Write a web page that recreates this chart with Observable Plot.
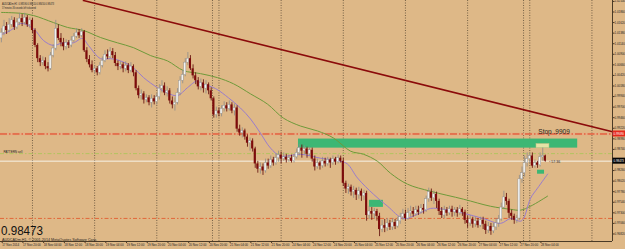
<!DOCTYPE html>
<html><head><meta charset="utf-8">
<script src="https://cdn.jsdelivr.net/npm/d3@7"></script>
<script src="https://cdn.jsdelivr.net/npm/@observablehq/plot@0.6"></script>
<style>html,body{margin:0;padding:0;background:#DEB887;overflow:hidden}</style>
</head><body><div id="chart"></div>
<script>
// ---- Candle data (H1 bars, index 0 = 17 Nov 12:00) ----
const open = [
1.0126,1.0139,1.0153,1.0144,1.0157,1.0167,1.0151,1.0162,1.0171,1.0162,
1.0173,1.0157,1.0167,1.0144,1.0110,1.0080,1.0071,1.0075,1.0062,1.0057,
1.0087,1.0103,1.0148,1.0126,1.0116,1.0107,1.0116,1.0110,1.0121,1.0130,
1.0139,1.0132,1.0141,1.0098,1.0078,1.0066,1.0053,1.0057,1.0048,1.0064,
1.0075,1.0089,1.0084,1.0096,1.0087,1.0069,1.0062,1.0066,1.0057,1.0064,
1.0053,1.0062,1.0048,1.0012,0.9996,1.0000,0.9986,0.9991,0.9980,0.9989,
0.9982,0.9993,1.0012,1.0018,1.0002,1.0007,0.9984,0.9975,0.9980,1.0002,
1.0030,1.0043,1.0071,1.0080,1.0057,1.0041,1.0030,1.0016,1.0025,1.0012,
1.0021,1.0007,0.9989,0.9952,0.9961,0.9955,0.9966,0.9973,0.9966,0.9975,
0.9961,0.9968,0.9920,0.9911,0.9916,0.9902,0.9888,0.9893,0.9875,0.9841,
0.9829,0.9834,0.9825,0.9843,0.9836,0.9850,0.9843,0.9854,0.9861,0.9852,
0.9856,0.9850,0.9854,0.9847,0.9856,0.9866,0.9877,0.9870,0.9875,0.9863,
0.9872,0.9852,0.9834,0.9843,0.9836,0.9847,0.9841,0.9850,0.9843,0.9852,
0.9845,0.9854,0.9847,0.9797,0.9784,0.9788,0.9777,0.9781,0.9770,0.9779,
0.9768,0.9774,0.9724,0.9733,0.9727,0.9733,0.9722,0.9692,0.9701,0.9695,
0.9706,0.9697,0.9708,0.9699,0.9711,0.9720,0.9727,0.9717,0.9729,0.9733,
0.9727,0.9736,0.9731,0.9740,0.9736,0.9761,0.9777,0.9763,0.9772,0.9756,
0.9733,0.9724,0.9736,0.9729,0.9738,0.9731,0.9736,0.9729,0.9738,0.9731,
0.9713,0.9706,0.9715,0.9704,0.9711,0.9701,0.9713,0.9704,0.9690,0.9699,
0.9688,0.9697,0.9706,0.9715,0.9742,0.9765,0.9756,0.9729,0.9722,0.9713,
0.9717,0.9806,0.9820,0.9843,0.9852,0.9859,0.9836,0.9843,0.9838,0.9856,0.9859];
const high = [
1.0148,1.0167,1.0162,1.0171,1.0176,1.0173,1.0171,1.0183,1.0180,1.0183,
1.0178,1.0173,1.0171,1.0148,1.0114,1.0087,1.0084,1.0082,1.0071,1.0094,
1.0112,1.0167,1.0157,1.0137,1.0126,1.0123,1.0121,1.0130,1.0137,1.0148,
1.0146,1.0148,1.0144,1.0105,1.0087,1.0075,1.0064,1.0062,1.0071,1.0084,
1.0098,1.0100,1.0105,1.0103,1.0094,1.0075,1.0073,1.0071,1.0073,1.0069,
1.0071,1.0066,1.0053,1.0018,1.0009,1.0005,0.9998,0.9996,0.9998,0.9996,
1.0000,1.0021,1.0030,1.0025,1.0016,1.0012,0.9993,0.9991,1.0012,1.0039,
1.0053,1.0080,1.0094,1.0087,1.0066,1.0048,1.0037,1.0034,1.0032,1.0030,
1.0025,1.0014,0.9993,0.9970,0.9968,0.9973,0.9982,0.9980,0.9984,0.9980,
0.9977,0.9973,0.9929,0.9923,0.9920,0.9907,0.9900,0.9898,0.9879,0.9847,
0.9843,0.9841,0.9852,0.9852,0.9859,0.9856,0.9863,0.9870,0.9868,0.9866,
0.9863,0.9861,0.9861,0.9863,0.9875,0.9886,0.9884,0.9882,0.9879,0.9879,
0.9877,0.9859,0.9852,0.9847,0.9856,0.9854,0.9856,0.9854,0.9859,0.9856,
0.9861,0.9859,0.9854,0.9802,0.9795,0.9793,0.9790,0.9786,0.9788,0.9784,
0.9781,0.9779,0.9745,0.9742,0.9740,0.9738,0.9729,0.9713,0.9715,0.9717,
0.9713,0.9717,0.9715,0.9720,0.9729,0.9738,0.9736,0.9740,0.9745,0.9742,
0.9745,0.9745,0.9749,0.9749,0.9768,0.9786,0.9784,0.9779,0.9777,0.9761,
0.9742,0.9745,0.9742,0.9745,0.9745,0.9742,0.9742,0.9747,0.9742,0.9736,
0.9722,0.9724,0.9720,0.9720,0.9717,0.9720,0.9720,0.9711,0.9708,0.9706,
0.9706,0.9717,0.9724,0.9752,0.9779,0.9774,0.9761,0.9736,0.9727,0.9724,
0.9815,0.9834,0.9859,0.9866,0.9866,0.9866,0.9850,0.9847,0.9866,0.9877,0.9861];
const low = [
1.0116,1.0132,1.0135,1.0139,1.0151,1.0144,1.0146,1.0155,1.0153,1.0157,
1.0151,1.0148,1.0137,1.0105,1.0071,1.0062,1.0064,1.0055,1.0050,1.0053,
1.0082,1.0098,1.0121,1.0107,1.0098,1.0100,1.0103,1.0105,1.0116,1.0126,
1.0126,1.0128,1.0094,1.0071,1.0059,1.0048,1.0046,1.0041,1.0043,1.0059,
1.0071,1.0078,1.0080,1.0080,1.0062,1.0053,1.0055,1.0048,1.0050,1.0046,
1.0048,1.0039,1.0007,0.9989,0.9986,0.9977,0.9980,0.9973,0.9968,0.9975,
0.9975,0.9986,1.0002,0.9996,0.9993,0.9977,0.9966,0.9961,0.9975,0.9996,
1.0023,1.0039,1.0064,1.0053,1.0034,1.0021,1.0009,1.0007,1.0002,1.0000,
0.9998,0.9984,0.9945,0.9945,0.9948,0.9948,0.9959,0.9959,0.9961,0.9955,
0.9950,0.9913,0.9904,0.9900,0.9895,0.9879,0.9870,0.9868,0.9831,0.9820,
0.9818,0.9815,0.9820,0.9829,0.9831,0.9836,0.9838,0.9845,0.9841,0.9847,
0.9843,0.9845,0.9843,0.9843,0.9852,0.9859,0.9854,0.9863,0.9854,0.9859,
0.9845,0.9825,0.9829,0.9827,0.9831,0.9834,0.9836,0.9831,0.9838,0.9838,
0.9841,0.9843,0.9790,0.9774,0.9772,0.9768,0.9763,0.9758,0.9761,0.9756,
0.9758,0.9711,0.9715,0.9713,0.9715,0.9711,0.9676,0.9685,0.9685,0.9688,
0.9690,0.9690,0.9692,0.9695,0.9704,0.9713,0.9711,0.9713,0.9720,0.9720,
0.9722,0.9724,0.9727,0.9727,0.9731,0.9754,0.9756,0.9749,0.9740,0.9724,
0.9717,0.9717,0.9722,0.9724,0.9720,0.9722,0.9720,0.9724,0.9722,0.9704,
0.9695,0.9699,0.9695,0.9697,0.9695,0.9697,0.9692,0.9681,0.9683,0.9679,
0.9683,0.9690,0.9697,0.9711,0.9738,0.9747,0.9717,0.9713,0.9704,0.9706,
0.9713,0.9797,0.9811,0.9834,0.9841,0.9831,0.9831,0.9831,0.9834,0.9847,0.9845];
const close = [
1.0139,1.0153,1.0144,1.0157,1.0167,1.0151,1.0162,1.0171,1.0162,1.0173,
1.0157,1.0167,1.0144,1.0110,1.0080,1.0071,1.0075,1.0062,1.0057,1.0087,
1.0103,1.0148,1.0126,1.0116,1.0107,1.0116,1.0110,1.0121,1.0130,1.0139,
1.0132,1.0141,1.0098,1.0078,1.0066,1.0053,1.0057,1.0048,1.0064,1.0075,
1.0089,1.0084,1.0096,1.0087,1.0069,1.0062,1.0066,1.0057,1.0064,1.0053,
1.0062,1.0048,1.0012,0.9996,1.0000,0.9986,0.9991,0.9980,0.9989,0.9982,
0.9993,1.0012,1.0018,1.0002,1.0007,0.9984,0.9975,0.9980,1.0002,1.0030,
1.0043,1.0071,1.0080,1.0057,1.0041,1.0030,1.0016,1.0025,1.0012,1.0021,
1.0007,0.9989,0.9952,0.9961,0.9955,0.9966,0.9973,0.9966,0.9975,0.9961,
0.9968,0.9920,0.9911,0.9916,0.9902,0.9888,0.9893,0.9875,0.9841,0.9829,
0.9834,0.9825,0.9843,0.9836,0.9850,0.9843,0.9854,0.9861,0.9852,0.9856,
0.9850,0.9854,0.9847,0.9856,0.9866,0.9877,0.9870,0.9875,0.9863,0.9872,
0.9852,0.9834,0.9843,0.9836,0.9847,0.9841,0.9850,0.9843,0.9852,0.9845,
0.9854,0.9847,0.9797,0.9784,0.9788,0.9777,0.9781,0.9770,0.9779,0.9768,
0.9774,0.9724,0.9733,0.9727,0.9733,0.9722,0.9692,0.9701,0.9695,0.9706,
0.9697,0.9708,0.9699,0.9711,0.9720,0.9727,0.9717,0.9729,0.9733,0.9727,
0.9736,0.9731,0.9740,0.9736,0.9761,0.9777,0.9763,0.9772,0.9756,0.9733,
0.9724,0.9736,0.9729,0.9738,0.9731,0.9736,0.9729,0.9738,0.9731,0.9713,
0.9706,0.9715,0.9704,0.9711,0.9701,0.9713,0.9704,0.9690,0.9699,0.9688,
0.9697,0.9706,0.9715,0.9742,0.9765,0.9756,0.9729,0.9722,0.9713,0.9717,
0.9806,0.9820,0.9843,0.9852,0.9859,0.9836,0.9843,0.9838,0.9856,0.9859,0.98473];

// ---- Moving averages (bar index, price) ----
const fastMaBars  = [0,3.5,7.4,12.4,16.3,20.1,23.6,27.8,31.3,33.6,38.3,42.1,46,51,54.9,60.3,64.1,68,71.8,75.7,76.9,82.7,87.7,92.3,96.2,100,103.9,107.8,115.5,123.2,130.9,133.6,137.5,143.7,149.1,155.3,160.7,165.7,170.7,178.4,186.1,192.7,196.6,200.4,201.6,204.3,207,210.9];
const fastMaPrice = [1.0135,1.0144,1.0160,1.0148,1.0121,1.0110,1.0116,1.0116,1.0126,1.0110,1.0080,1.0080,1.0075,1.0059,1.0037,1.0014,1.0002,0.9996,1.0014,1.0030,1.0025,1.0012,0.9991,0.9968,0.9943,0.9911,0.9877,0.9859,0.9863,0.9854,0.9847,0.9841,0.9809,0.9772,0.9745,0.9717,0.9727,0.9740,0.9738,0.9729,0.9717,0.9706,0.9717,0.9711,0.9717,0.9763,0.9786,0.9818];
const slowMaBars  = [0,7.4,12.4,20.1,25.5,31.7,38.3,44.8,51,57.6,64.1,70.3,76.9,83.4,89.6,96.2,102.7,108.9,115.5,122,128.2,134.8,139.8,145.2,150.2,156.8,165.7,178.4,188.8,196.6,200.4,204.3,210.9];
const slowMaPrice = [1.0185,1.0183,1.0178,1.0162,1.0151,1.0144,1.0128,1.0116,1.0105,1.0087,1.0075,1.0053,1.0046,1.0037,1.0023,1.0000,0.9977,0.9945,0.9927,0.9916,0.9900,0.9870,0.9863,0.9847,0.9820,0.9795,0.9779,0.9761,0.9745,0.9738,0.9736,0.9745,0.9768];

// ---- Levels, trend line, zones ----
const stopLevel = 0.9909;
const greenLevel = 0.98644;
const bidLevel = 0.98473;
const lowerLevel = 0.97173;
const trendBars = [31.7, 235.94];
const trendPrice = [1.0212, 0.9914];
const zoneNames = ["big", "small", "box2"];
const zoneBar1 = [114.7, 142.1, 207];
const zoneBar2 = [222.5, 147.5, 209.7];
const zoneLow  = [0.98769, 0.97424, 0.98177];
const zoneHigh = [0.98975, 0.97584, 0.98268];
const paleBar1 = 206.6, paleBar2 = 211.6, paleLow = 0.98769, paleHigh = 0.98861;

// ---- Axes ----
const separatorBars = [12, 36, 60, 81.5, 84, 108, 132, 156, 180, 201.6, 204, 228];
const priceTicks = [1.021,1.0186,1.0162,1.0138,1.0114,1.009,1.0066,1.0042,1.0018,0.9994,0.997,0.9946,0.9922,0.9898,0.9874,0.9826,0.9802,0.9778,0.9754,0.973,0.9706,0.9682];
const labelBars = [0,8,16,24,32,40,48,56,64,72,80,88,96,104,112,120,128,136,144,152,160,168,176,184,192,200,208];
const timeLabels = ["17 Nov 2014","17 Nov 20:00","18 Nov 04:00","18 Nov 12:00","18 Nov 20:00","19 Nov 04:00","19 Nov 12:00","19 Nov 20:00","20 Nov 04:00","20 Nov 12:00","20 Nov 20:00","21 Nov 04:00","21 Nov 12:00","21 Nov 20:00","24 Nov 04:00","24 Nov 12:00","24 Nov 20:00","25 Nov 04:00","25 Nov 12:00","25 Nov 20:00","26 Nov 04:00","26 Nov 12:00","26 Nov 20:00","27 Nov 04:00","27 Nov 12:00","27 Nov 20:00","28 Nov 04:00"];
const headerLine1 = "AUDCADm,H1  0.98590 0.98610 0.98450 0.98473";
const headerLine2 = "57 minutes 36 seconds left to bar end";
const footerText = "AUDCADm,H1, © 2001-2014 MetaQuotes Software Corp.";
const bigPrice = "0.98473";
const stopText = "Stop .9909";
const patternText = "PATTERN sell";
const timerText = "‹ 57:36";

// ---- Build tables ----
const candles = close.map((c, i) => ({i, o: open[i], h: high[i], l: low[i], c}));
const bull = candles.filter(d => d.c >= d.o);
const bear = candles.filter(d => d.c < d.o);
const fastMa = fastMaBars.map((b, k) => ({bar: b, price: fastMaPrice[k]}));
const slowMa = slowMaBars.map((b, k) => ({bar: b, price: slowMaPrice[k]}));
const trend = trendBars.map((b, k) => ({bar: b, price: trendPrice[k]}));
const zones = zoneNames.map((n, k) => ({n, x1: zoneBar1[k], x2: zoneBar2[k], y1: zoneLow[k], y2: zoneHigh[k]}));
const labelMap = new Map(labelBars.map((b, k) => [b, timeLabels[k]]));
const W = 0.4;

const chart = Plot.plot({
  width: 625, height: 249,
  marginLeft: 0, marginRight: 13, marginTop: 0, marginBottom: 8,
  style: {background: "#DEB887", fontFamily: "'Liberation Sans', Arial, sans-serif", overflow: "visible"},
  x: {domain: [-0.347, 235.94]},
  y: {domain: [0.96649, 1.02121]},
  marks: [
    Plot.ruleX(separatorBars, {stroke: "#6b5840", strokeDasharray: "1,1.5", strokeWidth: 0.9}),
    Plot.ruleY([stopLevel], {stroke: "#f2a080", strokeWidth: 2.5, strokeOpacity: 0.45}),
    Plot.ruleY([stopLevel], {stroke: "#e03c1e", strokeWidth: 1, strokeDasharray: "7,2,1.5,2"}),
    Plot.ruleY([greenLevel], {stroke: "#b2c45e", strokeWidth: 1, strokeDasharray: "4,2,1.5,2"}),
    Plot.ruleY([lowerLevel], {stroke: "#e2673a", strokeWidth: 1, strokeDasharray: "4,2,1.5,2"}),
    Plot.ruleY([bidLevel], {stroke: "#f6f1e6", strokeWidth: 1}),
    Plot.rect(zones, {x1: "x1", x2: "x2", y1: "y1", y2: "y2", fill: "#3cb774"}),
    Plot.rect([{x1: paleBar1, x2: paleBar2, y1: paleLow, y2: paleHigh}], {x1: "x1", x2: "x2", y1: "y1", y2: "y2", fill: "#e6e2a6", stroke: "#c9c483", strokeWidth: 0.5}),
    Plot.line(trend, {x: "bar", y: "price", stroke: "#8b0a0a", strokeWidth: 1.6}),
    Plot.line(slowMa, {x: "bar", y: "price", stroke: "#6f9a3a", strokeWidth: 1, curve: "catmull-rom"}),
    Plot.line(fastMa, {x: "bar", y: "price", stroke: "#9a7ccc", strokeWidth: 1, curve: "catmull-rom"}),
    Plot.ruleX(bull, {x: "i", y1: "l", y2: "h", stroke: "#8c8c8c", strokeWidth: 0.8}),
    Plot.ruleX(bear, {x: "i", y1: "l", y2: "h", stroke: "#5a0606", strokeWidth: 0.8}),
    Plot.rect(bull, {x1: d => d.i - W, x2: d => d.i + W, y1: "o", y2: "c", fill: "#f2f2f0", stroke: "#8c8c8c", strokeWidth: 0.4}),
    Plot.rect(bear, {x1: d => d.i - W, x2: d => d.i + W, y1: "o", y2: "c", fill: "#7d0b0b"}),
    Plot.text([{bar: 207.3, price: stopLevel}], {x: "bar", y: "price", text: () => stopText, textAnchor: "start", lineAnchor: "bottom", fontSize: 6.5, fill: "#2a2218", dy: 0.5}),
    Plot.text([{bar: 0.8, price: greenLevel}], {x: "bar", y: "price", text: () => patternText, textAnchor: "start", lineAnchor: "bottom", fontSize: 3, fill: "#222", dy: -0.8}),
    Plot.text([{bar: 211.5, price: bidLevel}], {x: "bar", y: "price", text: () => timerText, textAnchor: "start", lineAnchor: "middle", fontSize: 3.5, fill: "#222", dy: 1}),
    Plot.ruleY([0.96649], {stroke: "#4a3a26", strokeWidth: 1}),
    Plot.ruleX([235.94], {stroke: "#4a3a26", strokeWidth: 1}),
    Plot.axisY(priceTicks, {anchor: "right", label: null, tickSize: 1.5, tickPadding: 0.5, fontSize: 2.9, tickFormat: d3.format(".5f"), stroke: "#4a3a26", fill: "#222"}),
    Plot.axisX(labelBars, {anchor: "bottom", label: null, tickSize: 2, tickPadding: 0.3, fontSize: 3, tickFormat: d => labelMap.get(d), textAnchor: "start", dx: 0.8, stroke: "#4a3a26", fill: "#222"})
  ]
});
document.getElementById("chart").appendChild(chart);

const sy = chart.scale("y");
const svg = d3.select(chart);
const ff = "'Liberation Sans', Arial, sans-serif";
// axis price boxes
[[stopLevel, "#e5281c", "0.99090"], [bidLevel, "#050505", "0.98473"]].forEach(([v, col, t]) => {
  const y = sy.apply(v);
  svg.append("rect").attr("x", 612.5).attr("y", y - 3).attr("width", 12.5).attr("height", 6).attr("fill", col);
  svg.append("text").attr("x", 613.5).attr("y", y + 1.1).attr("font-size", 2.9).attr("text-anchor", "start")
    .attr("font-family", ff).attr("fill", "#fff").text(t);
});
// header & footer texts
const addText = (x, y, size, len, t, fill) => svg.append("text").attr("x", x).attr("y", y)
  .attr("font-size", size).attr("font-family", ff).attr("fill", fill).attr("text-anchor", "start")
  .attr("textLength", len).attr("lengthAdjust", "spacingAndGlyphs").text(t);
addText(2, 4.6, 3, 52, headerLine1, "#222");
addText(2, 8.6, 3, 34, headerLine2, "#222");
addText(1, 234.8, 13, 42, bigPrice, "#111");
addText(2, 240.8, 2.8, 95, footerText, "#222");
</script>
</body></html>
